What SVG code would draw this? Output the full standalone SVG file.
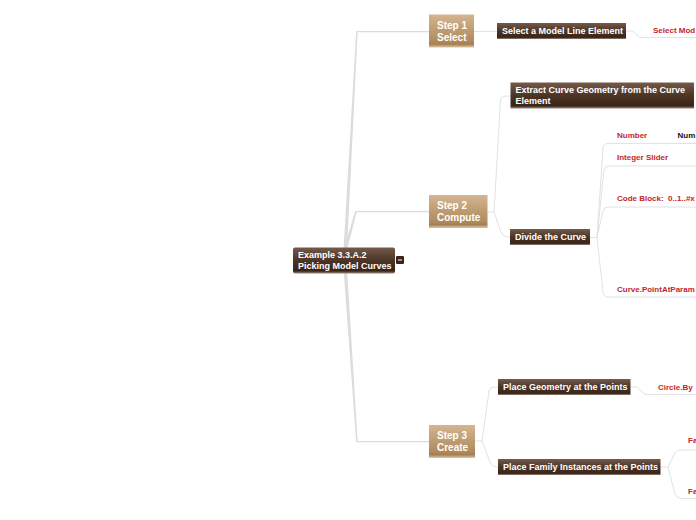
<svg xmlns="http://www.w3.org/2000/svg" width="696" height="520" viewBox="0 0 696 520">
<defs>
<linearGradient id="dark" x1="0" y1="0" x2="0" y2="1">
<stop offset="0" stop-color="#735a4a"/>
<stop offset="0.5" stop-color="#4c3426"/>
<stop offset="0.9" stop-color="#3a2417"/>
<stop offset="1" stop-color="#9a8a80"/>
</linearGradient>
<linearGradient id="tan" x1="0" y1="0" x2="0" y2="1">
<stop offset="0" stop-color="#d3b590"/>
<stop offset="0.8" stop-color="#b08b5f"/>
<stop offset="0.9" stop-color="#a57f52"/>
<stop offset="1" stop-color="#dcc6a8"/>
</linearGradient>
<style>
.t{font-family:"Liberation Sans",Arial,sans-serif;font-weight:bold;fill:#ffffff;font-size:9px}
.s{font-family:"Liberation Sans",Arial,sans-serif;font-weight:bold;fill:#ffffff;font-size:10px}
.r{font-family:"Liberation Sans",Arial,sans-serif;font-weight:bold;fill:#c3262c;font-size:8px;white-space:pre}
.k{font-family:"Liberation Sans",Arial,sans-serif;font-weight:bold;fill:#111111;font-size:8px}
.c{fill:none;stroke:#e2e2e2;stroke-width:1}
.m{fill:#dcdcdc;stroke:none}
.dk{fill:url(#dark)}
.tn{fill:url(#tan)}
</style>
</defs>
<rect width="696" height="520" fill="#ffffff"/>
<g id="connectors">
<path class="m" d="M343.5,250 L356.2,31 L429,31 L429,32.2 L357.6,32.2 L347,250 Z"/>
<path class="m" d="M343.5,250 L355.2,211 L429,211 L429,212.2 L356.6,212.2 L347,250 Z"/>
<path class="m" d="M343.5,268 L356.2,442.2 L429,442.2 L429,441 L357.6,441 L347,268 Z"/>
<path class="c" d="M474,31.5 H497"/>
<path class="c" d="M626,31 H632 L640,37.5 H696"/>
<path class="c" d="M487,212 H494 L500.5,101 Q501,96 506,96 H511"/>
<path class="c" d="M494,212 L501,232 Q503,237 507,237 H510"/>
<path class="c" d="M590,237.5 H597"/>
<path class="c" d="M597,237.5 L603,148 Q603.5,143.5 608,143.5 H696"/>
<path class="c" d="M597,237.5 L604,170 Q604.5,166 609,166 H696"/>
<path class="c" d="M597,237.5 L603,211 Q604,207 608,207 H696"/>
<path class="c" d="M597,237.5 L603,292 Q604,297 608,297 H696"/>
<path class="c" d="M475,441 H482 L489,391 Q490,387 494,387 H498"/>
<path class="c" d="M482,441 L490,462 Q492,467 496,467 H498"/>
<path class="c" d="M631,387 H637 L645,394.5 H696"/>
<path class="c" d="M661,467 H668 L675,453 Q677,450 681,450 H696"/>
<path class="c" d="M668,467 L675,494 Q677,498.5 681,498.5 H696"/>
</g>
<g id="root">
<rect class="dk" x="293" y="247.5" width="102" height="26" rx="2"/>
<text class="t" x="298" y="257.5">Example 3.3.A.2</text>
<text class="t" x="298" y="268.5">Picking Model Curves</text>
<rect x="396" y="256" width="8" height="8" rx="1" fill="#3b2519"/>
<path d="M398,260 H402" stroke="#ffffff" stroke-width="1"/>
</g>
<g id="step1">
<rect class="tn" x="429" y="14.5" width="45" height="33"/>
<text class="s" x="437" y="29.3">Step 1</text>
<text class="s" x="437" y="40.5">Select</text>
</g>
<g id="step2">
<rect class="tn" x="429" y="195" width="58.5" height="33"/>
<text class="s" x="437" y="208.5">Step 2</text>
<text class="s" x="437" y="220.5">Compute</text>
</g>
<g id="step3">
<rect class="tn" x="429" y="425" width="46" height="33"/>
<text class="s" x="437" y="439">Step 3</text>
<text class="s" x="437" y="451">Create</text>
</g>
<g id="select-model-line">
<rect class="dk" x="497" y="23" width="129" height="16"/>
<text class="t" x="502" y="33.5">Select a Model Line Element</text>
</g>
<g id="select-model-child">
<text class="r" x="653" y="33">Select Mod</text>
</g>
<g id="extract">
<rect class="dk" x="510.5" y="82.5" width="183.5" height="26"/>
<text class="t" x="515.5" y="92.5">Extract Curve Geometry from the Curve</text>
<text class="t" x="515.5" y="103.5">Element</text>
</g>
<g id="divide">
<rect class="dk" x="510" y="229" width="80" height="16"/>
<text class="t" x="515" y="240">Divide the Curve</text>
</g>
<g id="number">
<text class="r" x="617" y="137.5">Number</text>
<text class="k" x="677.5" y="137.5">Num</text>
</g>
<g id="integer-slider">
<text class="r" x="617" y="159.5">Integer Slider</text>
</g>
<g id="code-block">
<text class="r" x="617" y="200.5">Code Block:  0..1..#x</text>
</g>
<g id="point-at-param">
<text class="r" x="617" y="291.5">Curve.PointAtParam</text>
</g>
<g id="place-geometry">
<rect class="dk" x="498" y="379" width="132.5" height="16"/>
<text class="t" x="503" y="390">Place Geometry at the Points</text>
</g>
<g id="circle">
<text class="r" x="658" y="389.5">Circle.By</text>
</g>
<g id="place-family">
<rect class="dk" x="498" y="459" width="162.5" height="16"/>
<text class="t" x="503" y="470">Place Family Instances at the Points</text>
</g>
<g id="family-a">
<text class="r" x="688" y="442.5">Fa</text>
</g>
<g id="family-b">
<text class="r" x="688" y="493.5">Fa</text>
</g>
</svg>
